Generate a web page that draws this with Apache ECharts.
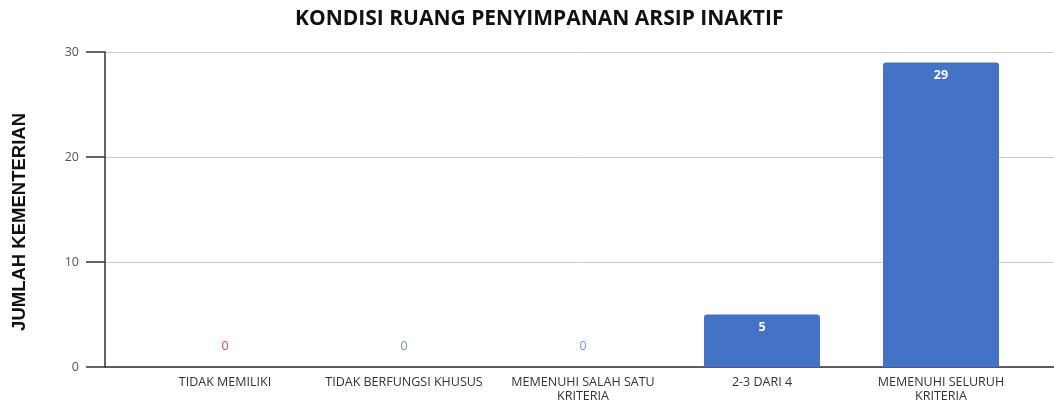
<!DOCTYPE html>
<html><head><meta charset="utf-8">
<script src="https://cdn.jsdelivr.net/npm/echarts@6/dist/echarts.min.js"></script>
<style>html,body{margin:0;padding:0;background:#fff}#c{width:1054px;height:403px}</style>
</head><body><div id="c"></div>
<script>
const title = 'KONDISI RUANG PENYIMPANAN ARSIP INAKTIF';
const yTitle = 'JUMLAH KEMENTERIAN';
const categories = ['TIDAK MEMILIKI', 'TIDAK BERFUNGSI KHUSUS', 'MEMENUHI SALAH SATU\nKRITERIA', '2-3 DARI 4', 'MEMENUHI SELURUH\nKRITERIA'];
const values = [0, 0, 0, 5, 29];
const labelColors = ['#e0463c', '#6f95d8', '#6f95d8', '#ffffff', '#ffffff'];
const yTicks = [0, 10, 20, 30];

const chart = echarts.init(document.getElementById('c'));
const barData = values.map((v, i) => ({
  value: v,
  label: v === 0
    ? { position: 'top', distance: 14, color: labelColors[i] }
    : { position: 'insideTop', distance: 6, color: labelColors[i], fontWeight: 'bold' }
}));
chart.setOption({
  animation: false,
  title: { text: title, left: 290, top: 4,
    textStyle: { fontFamily: 'Open Sans', fontWeight: 'bold', fontSize: 21, color: '#111' } },
  graphic: [{ type: 'text', x: 10, y: 113, rotation: Math.PI / 2, originX: 0, originY: 0,
    style: { text: yTitle, x: 0, y: 0, align: 'right', verticalAlign: 'top',
      fontFamily: 'Liberation Sans', fontWeight: 'bold', fontSize: 18.5, fill: '#111' } }],
  grid: [
    { left: 135.5, right: 23.5, top: 52, bottom: 36 },
    { left: 105, right: 0, top: 52, bottom: 36 }
  ],
  xAxis: [
    { type: 'category', gridIndex: 0, data: categories,
      axisLine: { show: false }, axisTick: { show: false },
      axisLabel: { interval: 0, color: '#333', fontFamily: 'Open Sans', fontSize: 12.5, lineHeight: 14, margin: 8 } },
    { type: 'category', gridIndex: 1, data: [''], axisTick: { show: false }, axisLabel: { show: false },
      axisLine: { lineStyle: { color: '#333', width: 1.5 } } }
  ],
  yAxis: [
    { type: 'value', gridIndex: 0, min: 0, max: 30, interval: 10, show: false, splitLine: { show: false } },
    { type: 'value', gridIndex: 1, min: yTicks[0], max: yTicks[yTicks.length - 1], interval: 10,
      axisLine: { show: true, lineStyle: { color: '#333', width: 1.5 } },
      axisTick: { show: true, inside: false, length: 19, lineStyle: { color: '#333', width: 1.5 } },
      axisLabel: { color: '#555', fontFamily: 'Open Sans', fontSize: 12.5, margin: 26 },
      splitLine: { lineStyle: { color: '#cccccc', width: 1 } } }
  ],
  series: [{
    type: 'bar', xAxisIndex: 0, yAxisIndex: 0, data: barData, barWidth: 116,
    itemStyle: { color: '#4472c4', borderRadius: [3, 3, 0, 0] },
    label: { show: true, fontFamily: 'Open Sans', fontSize: 12.5 }
  }]
});
</script></body></html>
